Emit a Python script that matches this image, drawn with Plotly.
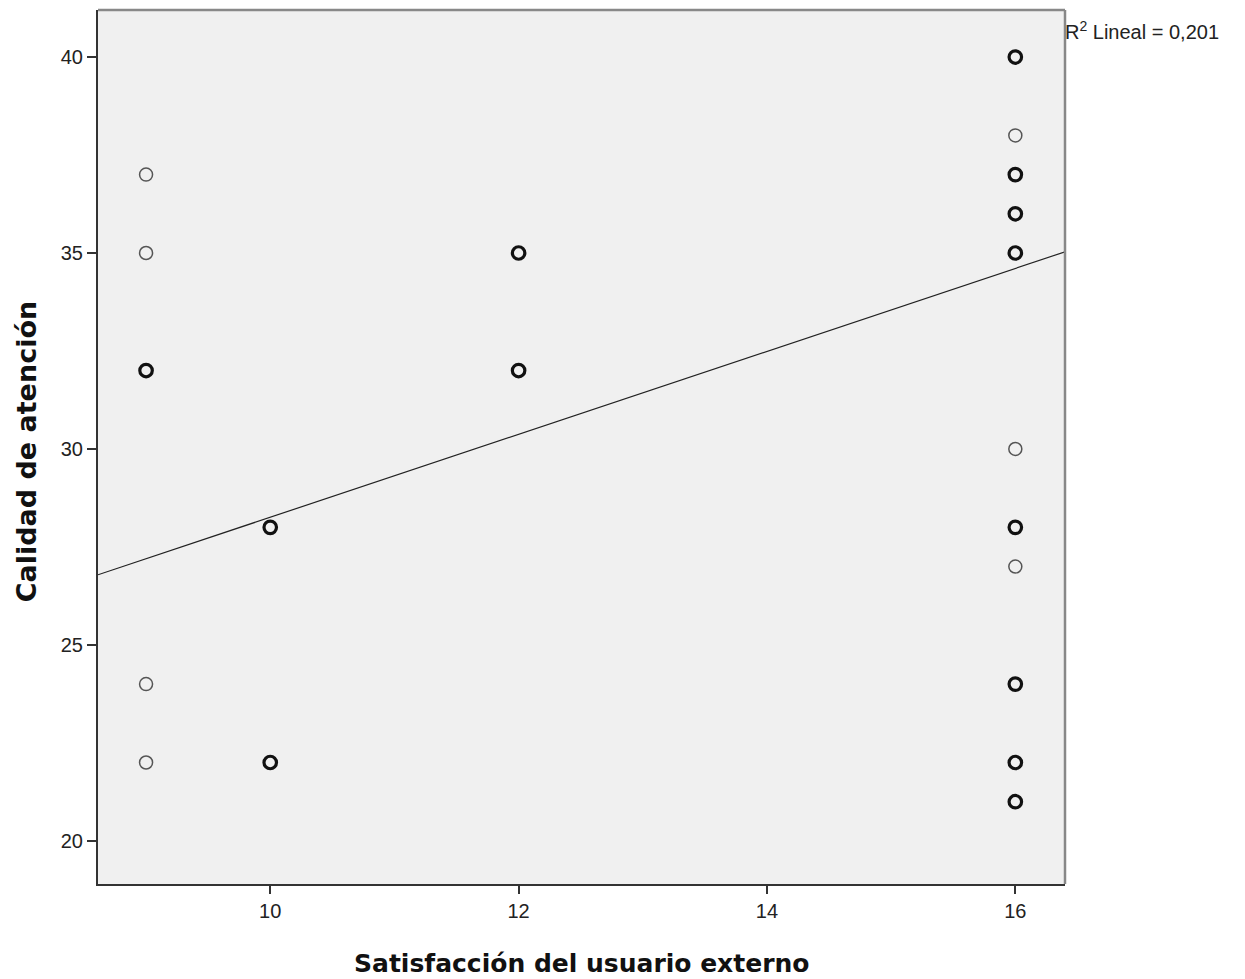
import plotly.graph_objects as go

# Data (x = Satisfacción, y = Calidad, count = overlapping cases)
x_vals = [9, 9, 9, 9, 9, 10, 10, 12, 12, 16, 16, 16, 16, 16, 16, 16, 16, 16, 16, 16]
y_vals = [37, 35, 32, 24, 22, 28, 22, 35, 32, 40, 38, 37, 36, 35, 30, 28, 27, 24, 22, 21]
counts = [1, 1, 2, 1, 1, 2, 2, 2, 2, 2, 1, 2, 2, 2, 1, 2, 1, 2, 2, 2]

x_ticks = [10, 12, 14, 16]
y_ticks = [20, 25, 30, 35, 40]

# Fit line (endpoints at axis limits)
x_range = [8.613, 16.40]
fit_y = [26.79, 35.03]

single_x = [x for x, c in zip(x_vals, counts) if c == 1]
single_y = [y for y, c in zip(y_vals, counts) if c == 1]
multi_x = [x for x, c in zip(x_vals, counts) if c > 1]
multi_y = [y for y, c in zip(y_vals, counts) if c > 1]

fig = go.Figure()
fig.add_trace(go.Scatter(x=x_range, y=fit_y, mode="lines",
                         line=dict(color="#222222", width=1.2), hoverinfo="skip"))
fig.add_trace(go.Scatter(x=single_x, y=single_y, mode="markers",
                         marker=dict(symbol="circle-open", size=13,
                                     color="#555555", line=dict(width=1.5, color="#555555"))))
fig.add_trace(go.Scatter(x=multi_x, y=multi_y, mode="markers",
                         marker=dict(symbol="circle-open", size=12.5,
                                     color="#111111", line=dict(width=3.2, color="#111111"))))

title_font = dict(family="DejaVu Sans, sans-serif", size=25, color="#111111")

fig.update_layout(
    width=1245, height=979,
    margin=dict(l=98, r=180, t=10, b=95),
    paper_bgcolor="white", plot_bgcolor="#f0f0f0",
    showlegend=False,
    font=dict(family="Liberation Sans, Arial, sans-serif", size=20, color="#222222"),
    xaxis=dict(range=x_range, tickvals=x_ticks, ticks="outside", ticklen=8,
               tickwidth=2, tickcolor="#333333", showgrid=False, zeroline=False,
               showline=True, linecolor="#333333", linewidth=2,
               tickfont=dict(size=20)),
    yaxis=dict(range=[18.9, 41.2], tickvals=y_ticks, ticks="outside", ticklen=9,
               tickwidth=2, tickcolor="#333333", showgrid=False, zeroline=False,
               showline=True, linecolor="#333333", linewidth=2,
               tickfont=dict(size=20)),
    shapes=[
        dict(type="line", xref="paper", yref="paper", x0=0, x1=1, y0=1, y1=1,
             line=dict(color="#888888", width=2.5)),
        dict(type="line", xref="paper", yref="paper", x0=1, x1=1, y0=0, y1=1,
             line=dict(color="#888888", width=2.5)),
    ],
    annotations=[
        dict(text="<b>Satisfacción del usuario externo</b>", xref="paper", yref="paper",
             x=0.5, y=0, xanchor="center", yanchor="middle", yshift=-79,
             showarrow=False, font=title_font),
        dict(text="<b>Calidad de atención</b>", xref="paper", yref="paper",
             x=0, y=0.495, xanchor="center", yanchor="middle", xshift=-72,
             textangle=-90, showarrow=False,
             font=dict(family="DejaVu Sans, sans-serif", size=27, color="#111111")),
        dict(text="R<sup>2</sup> Lineal = 0,201", xref="paper", yref="paper",
             x=0.998, y=1.0, xanchor="left", yanchor="top", yshift=-6, showarrow=False,
             font=dict(size=20, color="#222222")),
    ],
)

fig.write_html("out.html")
